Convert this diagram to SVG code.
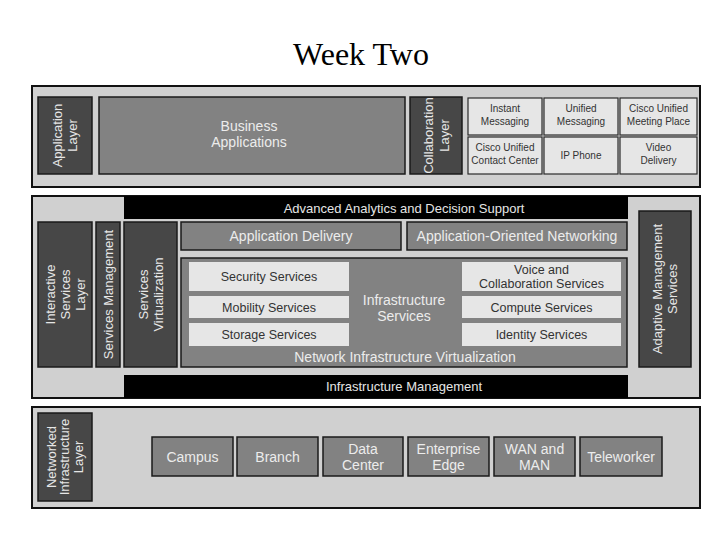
<svg xmlns="http://www.w3.org/2000/svg" width="720" height="540" viewBox="0 0 720 540">
<style>
.panel{fill:#d0d0d0;stroke:#111;stroke-width:2}
.dark{fill:#474747;stroke:#1a1a1a;stroke-width:1.5}
.mid{fill:#828282;stroke:#1a1a1a;stroke-width:1.5}
.band{fill:#000}
.cell{fill:#e6e6e6;stroke:#2a2a2a;stroke-width:1.2}
.icell{fill:#e6e6e6}
text{font-family:"Liberation Sans",Arial,sans-serif;text-anchor:middle}
.lt{fill:#e6e6e6;font-size:13px}
.lt14{fill:#ececec;font-size:14px}
.dk{fill:#333;font-size:12.5px}
.sm{fill:#333;font-size:10px}
.title{font-family:"Liberation Serif","Times New Roman",serif;font-size:32px;fill:#000}
</style>
<rect width="720" height="540" fill="#fff"/>
<text class="title" x="361" y="65">Week Two</text>

<g id="application-panel">
<rect class="panel" x="32" y="86" width="668" height="101"/>
</g>
<g id="application-layer">
<rect class="dark" x="38" y="97" width="54" height="77"/>
<text class="lt" transform="translate(65,135.5) rotate(-90)"><tspan x="0" y="-3">Application</tspan><tspan x="0" y="12">Layer</tspan></text>
</g>
<g id="business-applications">
<rect class="mid" x="99" y="97" width="306" height="77"/>
<text class="lt14" x="249"><tspan x="249" y="131">Business</tspan><tspan x="249" y="147">Applications</tspan></text>
</g>
<g id="collaboration-layer">
<rect class="dark" x="410" y="97" width="52" height="77"/>
<text class="lt" transform="translate(436,135.5) rotate(-90)"><tspan x="0" y="-3">Collaboration</tspan><tspan x="0" y="13">Layer</tspan></text>
</g>
<g id="instant-messaging">
<rect class="cell" x="468" y="98" width="74" height="37"/>
<text class="sm"><tspan x="505" y="112">Instant</tspan><tspan x="505" y="125">Messaging</tspan></text>
</g>
<g id="unified-messaging">
<rect class="cell" x="544" y="98" width="74" height="37"/>
<text class="sm"><tspan x="581" y="112">Unified</tspan><tspan x="581" y="125">Messaging</tspan></text>
</g>
<g id="meeting-place">
<rect class="cell" x="620" y="98" width="77" height="37"/>
<text class="sm"><tspan x="658.5" y="112">Cisco Unified</tspan><tspan x="658.5" y="125">Meeting Place</tspan></text>
</g>
<g id="contact-center">
<rect class="cell" x="468" y="137" width="74" height="37"/>
<text class="sm"><tspan x="505" y="151">Cisco Unified</tspan><tspan x="505" y="164">Contact Center</tspan></text>
</g>
<g id="ip-phone">
<rect class="cell" x="544" y="137" width="74" height="37"/>
<text class="sm" x="581" y="159">IP Phone</text>
</g>
<g id="video-delivery">
<rect class="cell" x="620" y="137" width="77" height="37"/>
<text class="sm"><tspan x="658.5" y="151">Video</tspan><tspan x="658.5" y="164">Delivery</tspan></text>
</g>

<g id="services-panel">
<rect class="panel" x="32" y="196" width="668" height="202"/>
</g>
<g id="advanced-analytics">
<rect class="band" x="124" y="196" width="504" height="23"/>
<text class="lt" x="404" y="212.5">Advanced Analytics and Decision Support</text>
</g>
<g id="infrastructure-management">
<rect class="band" x="124" y="375" width="504" height="23"/>
<text class="lt" x="404" y="391">Infrastructure Management</text>
</g>
<g id="interactive-services-layer">
<rect class="dark" x="38" y="222" width="54" height="145"/>
<text class="lt" transform="translate(65,294.5) rotate(-90)"><tspan x="0" y="-10.5">Interactive</tspan><tspan x="0" y="4.5">Services</tspan><tspan x="0" y="19.5">Layer</tspan></text>
</g>
<g id="services-management">
<rect class="dark" x="96" y="222" width="24" height="145"/>
<text class="lt" transform="translate(108,294.5) rotate(-90)" x="0" y="4.5">Services Management</text>
</g>
<g id="services-virtualization">
<rect class="dark" x="124" y="222" width="53" height="145"/>
<text class="lt" transform="translate(150.5,294.5) rotate(-90)"><tspan x="0" y="-3">Services</tspan><tspan x="0" y="12">Virtualization</tspan></text>
</g>
<g id="application-delivery">
<rect class="mid" x="181" y="222" width="220" height="28"/>
<text class="lt14" x="291" y="241">Application Delivery</text>
</g>
<g id="aon">
<rect class="mid" x="407" y="222" width="220" height="28"/>
<text class="lt14" x="517" y="241">Application-Oriented Networking</text>
</g>
<g id="network-infrastructure-virtualization">
<rect class="mid" x="181" y="258" width="446" height="109"/>
<text class="lt14" x="404"><tspan x="404" y="305">Infrastructure</tspan><tspan x="404" y="321">Services</tspan></text>
<text class="lt14" x="405" y="362">Network Infrastructure Virtualization</text>
</g>
<g id="security-services">
<rect class="icell" x="189" y="262" width="160" height="29"/>
<text class="dk" x="269" y="281">Security Services</text>
</g>
<g id="mobility-services">
<rect class="icell" x="189" y="296" width="160" height="22"/>
<text class="dk" x="269" y="311.5">Mobility Services</text>
</g>
<g id="storage-services">
<rect class="icell" x="189" y="323" width="160" height="23"/>
<text class="dk" x="269" y="339">Storage Services</text>
</g>
<g id="voice-collaboration-services">
<rect class="icell" x="462" y="262" width="159" height="29"/>
<text class="dk" font-size="11.5"><tspan x="541.5" y="274">Voice and</tspan><tspan x="541.5" y="288">Collaboration Services</tspan></text>
</g>
<g id="compute-services">
<rect class="icell" x="462" y="296" width="159" height="22"/>
<text class="dk" x="541.5" y="311.5">Compute Services</text>
</g>
<g id="identity-services">
<rect class="icell" x="462" y="323" width="159" height="23"/>
<text class="dk" x="541.5" y="339">Identity Services</text>
</g>
<g id="adaptive-management-services">
<rect class="dark" x="639" y="211" width="52" height="156"/>
<text class="lt" transform="translate(665,289) rotate(-90)"><tspan x="0" y="-3">Adaptive Management</tspan><tspan x="0" y="12">Services</tspan></text>
</g>

<g id="networked-panel">
<rect class="panel" x="32" y="407" width="668" height="101"/>
</g>
<g id="networked-infrastructure-layer">
<rect class="dark" x="38" y="413" width="54" height="88"/>
<text class="lt" font-size="12" transform="translate(65,457) rotate(-90)"><tspan x="0" y="-9.5">Networked</tspan><tspan x="0" y="4">Infrastructure</tspan><tspan x="0" y="17.5">Layer</tspan></text>
</g>
<g id="campus">
<rect class="mid" x="152" y="437" width="81" height="39"/>
<text class="lt14" x="192.5" y="461.5">Campus</text>
</g>
<g id="branch">
<rect class="mid" x="237" y="437" width="81" height="39"/>
<text class="lt14" x="277.5" y="461.5">Branch</text>
</g>
<g id="data-center">
<rect class="mid" x="323" y="437" width="80" height="39"/>
<text class="lt14"><tspan x="363" y="454">Data</tspan><tspan x="363" y="470">Center</tspan></text>
</g>
<g id="enterprise-edge">
<rect class="mid" x="408" y="437" width="81" height="39"/>
<text class="lt14"><tspan x="448.5" y="454">Enterprise</tspan><tspan x="448.5" y="470">Edge</tspan></text>
</g>
<g id="wan-man">
<rect class="mid" x="494" y="437" width="81" height="39"/>
<text class="lt14"><tspan x="534.5" y="454">WAN and</tspan><tspan x="534.5" y="470">MAN</tspan></text>
</g>
<g id="teleworker">
<rect class="mid" x="580" y="437" width="82" height="39"/>
<text class="lt14" x="621" y="461.5">Teleworker</text>
</g>
<g id="connectors"></g>
</svg>
